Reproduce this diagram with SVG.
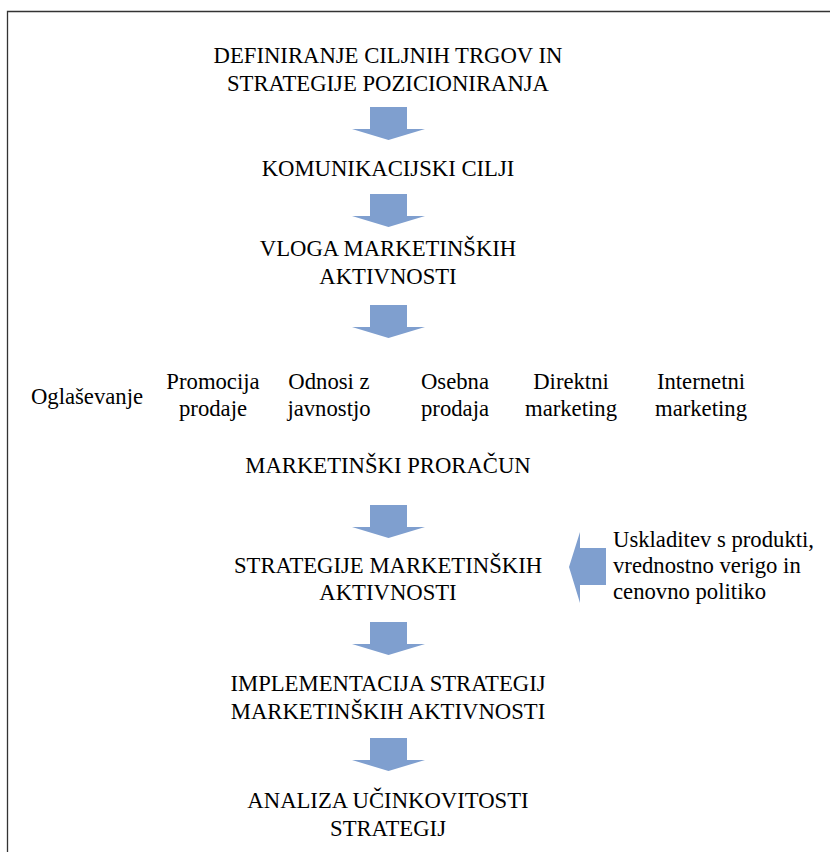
<svg xmlns="http://www.w3.org/2000/svg" width="830" height="852" viewBox="0 0 830 852">
  <defs>
    <style>
      .t { font-family: "Liberation Serif", "Times New Roman", serif; font-size: 22.7px; fill: #000; }
      .c { text-anchor: middle; }
      .arrow { fill: #7F9FCF; }
      .frame { fill: none; stroke: #333; stroke-width: 1.3; }
    </style>
    <!-- down arrow, origin at top-left of shaft centre line -->
    <path id="down" d="M-18.5,0 H18.5 V22 H36.5 L0,33 L-36.5,22 H-18.5 Z"/>
  </defs>
  <rect width="830" height="852" fill="#fff"/>
  <path class="frame" d="M7.5,852 V11.5 H830"/>

  <g id="connectors" class="arrow">
    <use href="#down" x="388.5" y="107"/>
    <use href="#down" x="388.5" y="194"/>
    <use href="#down" x="388.5" y="305"/>
    <use href="#down" x="388.5" y="505"/>
    <use href="#down" x="388.5" y="622"/>
    <use href="#down" x="388.5" y="738"/>
    <path d="M606,548 V585 H580 V603 L569,567 L580,532 V548 Z"/>
  </g>

  <g id="n1"><text class="t c" x="388" y="63">DEFINIRANJE CILJNIH TRGOV IN</text><text class="t c" x="388" y="91">STRATEGIJE POZICIONIRANJA</text></g>
  <g id="n2"><text class="t c" x="388" y="176">KOMUNIKACIJSKI CILJI</text></g>
  <g id="n3"><text class="t c" x="388" y="256">VLOGA MARKETINŠKIH</text><text class="t c" x="388" y="284">AKTIVNOSTI</text></g>

  <g id="a1"><text class="t c" x="87" y="404">Oglaševanje</text></g>
  <g id="a2"><text class="t c" x="213" y="389">Promocija</text><text class="t c" x="213" y="416">prodaje</text></g>
  <g id="a3"><text class="t c" x="329" y="389">Odnosi z</text><text class="t c" x="329" y="416">javnostjo</text></g>
  <g id="a4"><text class="t c" x="455" y="389">Osebna</text><text class="t c" x="455" y="416">prodaja</text></g>
  <g id="a5"><text class="t c" x="571" y="389">Direktni</text><text class="t c" x="571" y="416">marketing</text></g>
  <g id="a6"><text class="t c" x="701" y="389">Internetni</text><text class="t c" x="701" y="416">marketing</text></g>

  <g id="n4"><text class="t c" x="388" y="473">MARKETINŠKI PRORAČUN</text></g>
  <g id="n5"><text class="t c" x="388" y="573">STRATEGIJE MARKETINŠKIH</text><text class="t c" x="388" y="600">AKTIVNOSTI</text></g>
  <g id="side"><text class="t" x="613" y="547">Uskladitev s produkti,</text><text class="t" x="613" y="573">vrednostno verigo in</text><text class="t" x="613" y="599">cenovno politiko</text></g>
  <g id="n6"><text class="t c" x="388" y="691">IMPLEMENTACIJA STRATEGIJ</text><text class="t c" x="388" y="719">MARKETINŠKIH AKTIVNOSTI</text></g>
  <g id="n7"><text class="t c" x="388" y="808">ANALIZA UČINKOVITOSTI</text><text class="t c" x="388" y="836">STRATEGIJ</text></g>
</svg>
